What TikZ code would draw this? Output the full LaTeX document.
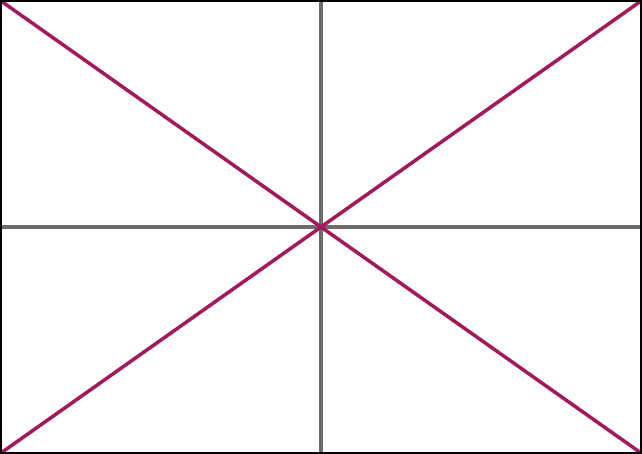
\documentclass[tikz,border=0pt]{standalone}
\definecolor{gridgray}{HTML}{6B6B6B}
\definecolor{diagmag}{HTML}{A3195B}
\tikzset{
  frame/.style={draw=black, line width=2pt},
  axisline/.style={draw=gridgray, line width=3.5pt},
  diagline/.style={draw=diagmag, line width=3.5pt},
}
\begin{document}
\begin{tikzpicture}[x=1pt,y=1pt]
\useasboundingbox (0,0) rectangle (642,454);
\fill[white] (0,0) rectangle (642,454);
\coordinate (bl) at (1,1);
\coordinate (br) at (641,1);
\coordinate (tl) at (1,453);
\coordinate (tr) at (641,453);
\coordinate (tm) at (321,453);
\coordinate (bm) at (321,1);
\coordinate (lm) at (1,227);
\coordinate (rm) at (641,227);
\draw[axisline] (tm) -- (bm);
\draw[axisline] (lm) -- (rm);
\draw[diagline] (tl) -- (br);
\draw[diagline] (bl) -- (tr);
\draw[frame] (bl) rectangle (tr);
\end{tikzpicture}
\end{document}
